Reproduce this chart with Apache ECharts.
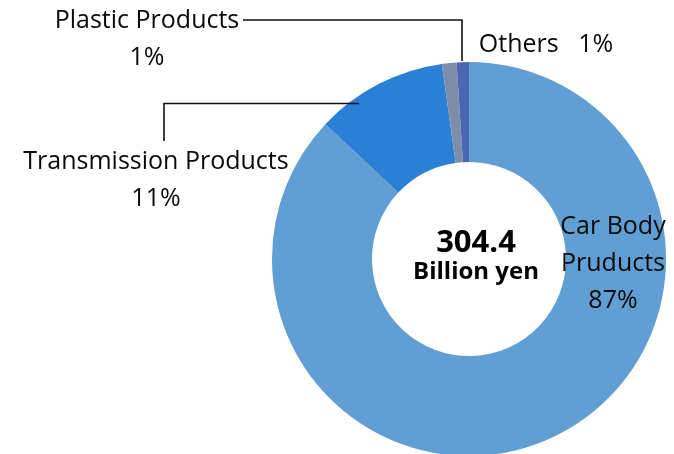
<!DOCTYPE html>
<html>
<head>
<meta charset="utf-8">
<script src="https://cdn.jsdelivr.net/npm/echarts@6/dist/echarts.min.js"></script>
<style>
  html, body { margin: 0; padding: 0; background: #fff; }
  #main { width: 674px; height: 454px; }
</style>
</head>
<body>
<div id="main"></div>
<script>
  // segments, clockwise from 12 o'clock
  var names = ['Car Body\nPruducts', 'Transmission Products', 'Plastic Products', 'Others'];
  var shares = [87, 10.8, 1.2, 1.0];
  var shareLabels = ['87%', '11%', '1%', '1%'];
  var colors = ['#619ed3', '#2a7fd7', '#7f8ea8', '#4a67b2'];
  var totalValue = '304.4';
  var totalUnit = 'Billion yen';

  var font = '"Open Sans", "Noto Sans", sans-serif';

  // where each label sits (x, y of the text block centre)
  var labelPos = [[613, 264], [156, 180], [147, 39], [546, 45]];

  var chart = echarts.init(document.getElementById('main'));

  var pieData = names.map(function (n, i) {
    var item = { name: n, value: shares[i], itemStyle: { color: colors[i] } };
    if (i === 3) {
      item.label = { formatter: 'Others   ' + shareLabels[i] };
    } else {
      item.label = { formatter: n + '\n' + shareLabels[i] };
    }
    return item;
  });

  var option = {
    animation: false,
    backgroundColor: '#fff',
    series: [
      {
        type: 'pie',
        center: [469, 259],
        radius: [97, 197],
        startAngle: 90,
        clockwise: true,
        silent: true,
        data: pieData,
        label: {
          show: true,
          position: 'outside',
          alignTo: 'none',
          overflow: 'none',
          color: '#0a0a0a',
          fontFamily: font,
          fontSize: 25,
          lineHeight: 37,
          align: 'center'
        },
        labelLine: { show: false },
        labelLayout: function (params) {
          var p = labelPos[params.dataIndex];
          return {
            x: p[0],
            y: p[1],
            align: 'center',
            verticalAlign: 'middle'
          };
        }
      }
    ],
    graphic: [
      // leader lines
      {
        type: 'polyline',
        z: 100,
        shape: { points: [[243, 20], [462, 20], [462, 61]] },
        style: { stroke: '#111', lineWidth: 1.6, fill: null }
      },
      {
        type: 'polyline',
        z: 100,
        shape: { points: [[164, 141], [164, 103.5], [359, 103.5]] },
        style: { stroke: '#111', lineWidth: 1.6, fill: null }
      },
      // centre total
      {
        type: 'text',
        z: 100,
        x: 476,
        y: 243,
        style: {
          text: totalValue,
          font: 'bold 31px ' + font,
          fill: '#000',
          textAlign: 'center',
          textVerticalAlign: 'middle'
        }
      },
      {
        type: 'text',
        z: 100,
        x: 476,
        y: 272,
        style: {
          text: totalUnit,
          font: 'bold 24px ' + font,
          fill: '#000',
          textAlign: 'center',
          textVerticalAlign: 'middle'
        }
      }
    ]
  };

  chart.setOption(option);
</script>
</body>
</html>
